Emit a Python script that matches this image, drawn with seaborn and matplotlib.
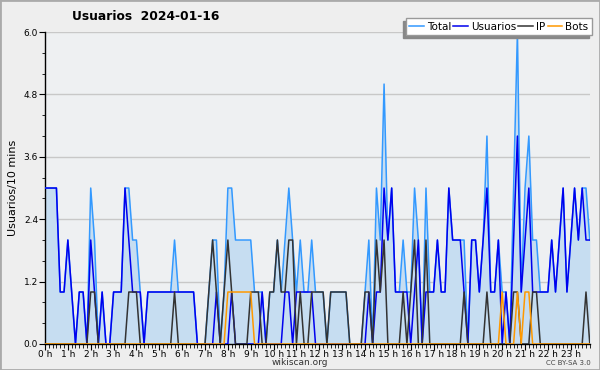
import numpy as np
import pandas as pd
import matplotlib
matplotlib.use('Agg')
import matplotlib.pyplot as plt
import seaborn as sns
from matplotlib.ticker import MultipleLocator

# 10-minute slots, 144 per day
total = [3,3,3,3,1,1, 2,1,0,1,1,0, 3,2,0,1,0,0, 1,1,1,3,3,2,
         2,1,0,1,1,1, 1,1,1,1,2,1, 1,1,1,1,0,0, 0,1,2,2,0,1,
         3,3,2,2,2,2, 2,1,1,1,0,1, 1,2,1,2,3,2, 1,2,1,1,2,1,
         1,1,0,1,1,1, 1,1,0,0,0,0, 1,2,0,3,2,5, 2,3,1,1,2,1,
         1,3,2,0,3,1, 1,2,1,1,3,2, 2,2,2,0,2,2, 1,2,4,1,1,2,
         1,1,0,3,6,1, 3,4,2,2,1,1, 1,2,1,2,3,1, 2,3,2,3,3,2]
usuarios = [3,3,3,3,1,1, 2,1,0,1,1,0, 2,1,0,1,0,0, 1,1,1,3,2,1,
            1,1,0,1,1,1, 1,1,1,1,1,1, 1,1,1,1,0,0, 0,0,0,1,0,0,
            0,1,0,0,0,0, 0,0,0,1,0,0, 0,0,0,1,1,0, 1,1,1,1,1,0,
            0,0,0,0,0,0, 0,0,0,0,0,0, 0,1,0,1,1,3, 2,3,1,1,1,1,
            0,1,2,0,1,1, 1,2,1,1,3,2, 2,2,1,0,2,2, 1,2,3,1,1,2,
            0,1,0,2,4,1, 2,3,1,1,1,1, 1,2,1,2,3,1, 2,3,2,3,2,2]
ip = [0,0,0,0,0,0, 0,0,0,0,0,0, 1,1,0,0,0,0, 0,0,0,0,1,1,
      1,0,0,0,0,0, 0,0,0,0,1,0, 0,0,0,0,0,0, 0,1,2,1,0,1,
      2,1,0,0,0,0, 1,1,1,0,0,1, 1,2,1,1,2,2, 0,1,0,0,1,1,
      1,1,0,1,1,1, 1,1,0,0,0,0, 1,1,0,2,1,2, 0,0,0,0,1,0,
      1,2,0,0,2,0, 0,0,0,0,0,0, 0,0,1,0,0,0, 0,0,1,0,0,0,
      0,0,0,1,1,0, 0,0,1,1,0,0, 0,0,0,0,0,0, 0,0,0,0,1,0]
bots = [0]*48 + [1,1,1,1,1,1, 1] + [0]*65 + [1,0,0,0,1,0, 1,1] + [0]*16
hour_labels = ['%d h' % h for h in range(24)]
y_ticks = [0.0, 1.2, 2.4, 3.6, 4.8, 6.0]

slots = np.arange(len(total))
df = pd.DataFrame({'slot': slots, 'Total': total, 'Usuarios': usuarios,
                   'IP': ip, 'Bots': bots})

bg = '#eeeeee'
plt.rcParams['font.family'] = ['DejaVu Sans']
fig = plt.figure(figsize=(6, 3.7), dpi=100, facecolor=bg)
ax = fig.add_axes([0.075, 0.0703, 0.908, 0.843])
ax.set_facecolor('#eef0f2')

colors = {'Total': '#3399ff', 'Usuarios': '#0000ee', 'IP': '#333333', 'Bots': '#ff9900'}

ax.fill_between(df['slot'], df['Total'], 0, color='#c6ddf1', lw=0, zorder=1)
for name in ['Total', 'Usuarios', 'IP', 'Bots']:
    sns.lineplot(data=df, x='slot', y=name, ax=ax, color=colors[name],
                 lw=1.1, label=name, zorder=3)

ax.set_xlim(0, 143)
ax.set_ylim(0, 6)
ax.set_yticks(y_ticks)
ax.set_yticklabels(['%.1f' % v for v in y_ticks])
ax.yaxis.set_minor_locator(MultipleLocator(0.4))
ax.set_xticks(np.arange(0, 144, 6))
ax.set_xticklabels(hour_labels)
ax.xaxis.set_minor_locator(MultipleLocator(1))
ax.tick_params(axis='both', labelsize=6.5, colors='black', direction='out')
ax.tick_params(axis='x', which='major', length=4, pad=0.5)
ax.tick_params(axis='x', which='minor', length=3)
ax.tick_params(axis='y', which='major', length=4, pad=1)
ax.tick_params(axis='y', which='minor', length=2)
ax.grid(axis='y', color='#c8c8c8', lw=1, zorder=0)
ax.set_axisbelow(True)
for s in ['top', 'right']:
    ax.spines[s].set_visible(False)
for s in ['left', 'bottom']:
    ax.spines[s].set_color('black')
    ax.spines[s].set_linewidth(1)
ax.set_xlabel('')
ax.set_ylabel('Usuarios/10 mins', fontsize=8, labelpad=4)

leg = ax.legend(loc='upper right', bbox_to_anchor=(1.004, 1.045), ncol=4,
                fontsize=7.5, frameon=True, fancybox=False, handlelength=1.4,
                handletextpad=0.3, columnspacing=0.2, borderpad=0.35,
                borderaxespad=0,
                shadow={'ox': -2, 'oy': -2, 'color': '#888888', 'alpha': 1})
leg.get_frame().set_edgecolor('#999999')
leg.get_frame().set_facecolor('white')
leg.get_frame().set_linewidth(1)

fig.text(0.243, 0.955, 'Usuarios  2024-01-16', fontsize=8.8, fontweight='bold',
         ha='center', va='center')
fig.text(0.5, 0.02, 'wikiscan.org', fontsize=6.5, ha='center', va='center', color='#333333')
fig.text(0.985, 0.018, 'CC BY-SA 3.0', fontsize=5, ha='right', va='center', color='#444444')
fig.patches.append(plt.Rectangle((0, 0), 1, 1, transform=fig.transFigure,
                                 fill=False, edgecolor='#aaaaaa', lw=2))

fig.savefig('out.png', dpi=100, facecolor=bg)
